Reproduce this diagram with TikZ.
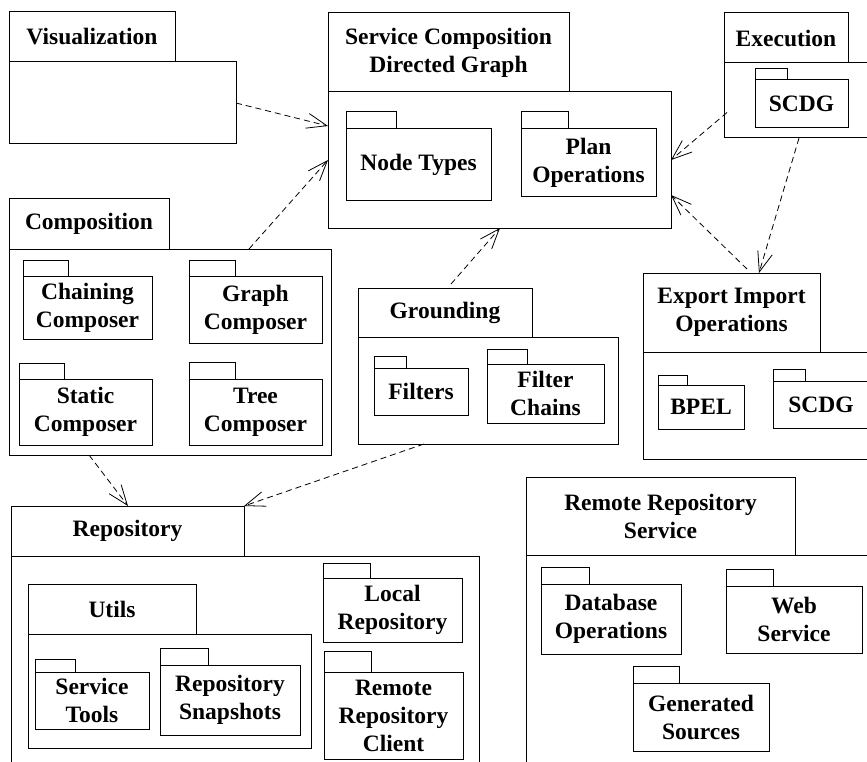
\documentclass[tikz,border=0pt]{standalone}
\usepackage{fontspec}
\setmainfont{Liberation Serif}
\usetikzlibrary{arrows.meta,calc}
\newcommand\pkgbox[6]{%
  \node[pbox, minimum width={#4-#2}, minimum height={#5-#3}] (#1) at ({(#2+#4)/2},{(#3+#5)/2}) {#6};}
\begin{document}
\begin{tikzpicture}[x=1pt,y=-1pt,
  pbox/.style={draw=black,line width=1pt,inner sep=0pt,outer sep=0pt,align=center,
    font=\fontsize{23.5}{28}\selectfont\bfseries},
  dep/.style={draw=black,line width=0.8pt,dash pattern=on 6pt off 4pt,
    -{Straight Barb[length=20pt,width=15pt,line width=0.8pt]}}]
\useasboundingbox (0,0) rectangle (867,762);
\clip (0,0) rectangle (867,762);
% Visualization
\pkgbox{viztab}{9}{12}{175}{62}{Visualization}
\pkgbox{vizbody}{9}{62}{236}{144}{}
% Service Composition Directed Graph
\pkgbox{scdgtab}{328}{13}{569}{92}{Service Composition\\Directed Graph}
\pkgbox{scdgbody}{328}{92}{671}{228}{}
\pkgbox{nttab}{346}{112}{396}{129}{}
\pkgbox{ntbody}{346}{129}{491}{201}{Node Types}
\pkgbox{potab}{521}{112}{568}{129}{}
\pkgbox{pobody}{521}{129}{656}{197}{Plan\\Operations}
% Execution
\pkgbox{exectab}{724}{13}{848}{63}{Execution}
\pkgbox{execbody}{724}{63}{900}{138}{}
\pkgbox{escdgtab}{755}{69}{787}{80}{}
\pkgbox{escdgbody}{755}{80}{848}{128}{SCDG}
% Composition
\pkgbox{comptab}{9}{199}{169}{249}{Composition}
\pkgbox{compbody}{9}{249}{331}{455}{}
\pkgbox{cctab}{23}{260}{68}{276}{}
\pkgbox{ccbody}{23}{276}{152}{339}{Chaining\\Composer}
\pkgbox{gctab}{189}{260}{235}{276}{}
\pkgbox{gcbody}{189}{276}{322}{343}{Graph\\Composer}
\pkgbox{sctab}{19}{363}{64}{379}{}
\pkgbox{scbody}{19}{379}{152}{445}{Static\\Composer}
\pkgbox{tctab}{189}{362}{235}{379}{}
\pkgbox{tcbody}{189}{379}{322}{445}{Tree\\Composer}
% Grounding
\pkgbox{grtab}{358}{288}{532}{337}{Grounding}
\pkgbox{grbody}{358}{337}{618}{444}{}
\pkgbox{fitab}{374}{356}{406}{368}{}
\pkgbox{fibody}{374}{368}{468}{415}{Filters}
\pkgbox{fctab}{487}{349}{527}{364}{}
\pkgbox{fcbody}{487}{364}{604}{423}{Filter\\Chains}
% Export Import Operations
\pkgbox{eitab}{643}{273}{820}{352}{Export Import\\Operations}
\pkgbox{eibody}{643}{352}{900}{459}{}
\pkgbox{bpeltab}{658}{375}{687}{385}{}
\pkgbox{bpelbody}{658}{385}{744}{429}{BPEL}
\pkgbox{xscdgtab}{773}{369}{805}{381}{}
\node[pbox, minimum width=127, minimum height=47, anchor=north west] (xscdgbody) at (773,381) {};
\node[font=\fontsize{23.5}{28}\selectfont\bfseries] at (821,405) {SCDG};
% Repository
\pkgbox{repotab}{11}{506}{244}{556}{Repository}
\pkgbox{repobody}{11}{556}{479}{800}{}
\pkgbox{utiltab}{28}{584}{196}{634}{Utils}
\pkgbox{utilbody}{28}{634}{311}{748}{}
\pkgbox{sttab}{35}{659}{75}{672}{}
\pkgbox{stbody}{35}{672}{149}{729}{Service\\Tools}
\pkgbox{rstab}{160}{648}{208}{665}{}
\pkgbox{rsbody}{160}{665}{300}{735}{Repository\\Snapshots}
\pkgbox{lrtab}{323}{563}{370}{578}{}
\pkgbox{lrbody}{323}{578}{462}{642}{Local\\Repository}
\pkgbox{rrctab}{324}{651}{371}{672}{}
\pkgbox{rrcbody}{324}{672}{463}{759}{Remote\\Repository\\Client}
% Remote Repository Service
\pkgbox{rrstab}{526}{477}{795}{555}{Remote Repository\\Service}
\pkgbox{rrsbody}{526}{555}{900}{800}{}
\pkgbox{dbtab}{541}{567}{589}{584}{}
\pkgbox{dbbody}{541}{584}{681}{654}{Database\\Operations}
\pkgbox{wstab}{726}{569}{773}{586}{}
\pkgbox{wsbody}{726}{586}{862}{653}{Web\\Service}
\pkgbox{gstab}{633}{666}{679}{683}{}
\pkgbox{gsbody}{633}{683}{769}{751}{Generated\\Sources}
% dependencies
\draw[dep] (vizbody.east) -- ($(scdgbody.west)+(0,-34)$);
\draw[dep] ($(compbody.north west)+(240,0)$) -- (scdgbody.west);
\draw[dep] ($(execbody.west)+(3,12)$) -- (scdgbody.east);
\draw[dep] ($(execbody.south west)+(75,0)$) -- ($(eitab.north west)+(116,0)$);
\draw[dep] ($(eitab.north west)+(104,-4)$) -- ($(scdgbody.east)+(0,35)$);
\draw[dep] ($(grtab.north west)+(93,-4)$) -- ($(scdgbody.south west)+(172,0)$);
\draw[dep] ($(compbody.south west)+(80,0)$) -- ($(repotab.north west)+(117,0)$);
\draw[dep] ($(grbody.south west)+(66,0)$) -- (repotab.north east);
\end{tikzpicture}
\end{document}
